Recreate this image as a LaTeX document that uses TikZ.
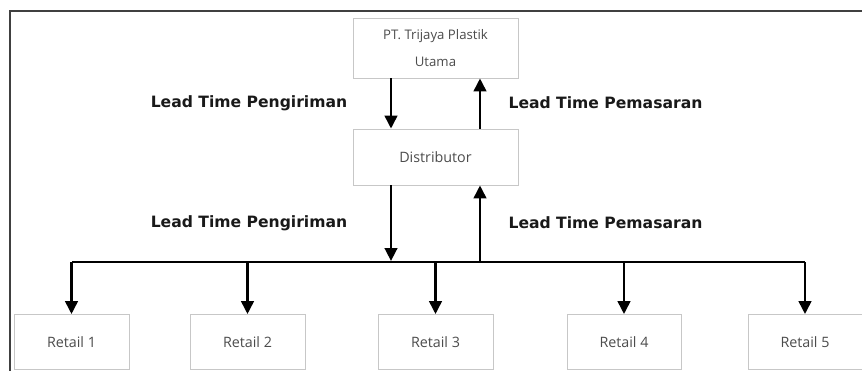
\documentclass[tikz,border=0pt]{standalone}
\usepackage{fontspec}
\setmainfont{Open Sans}
\newfontfamily\lblfont{DejaVu Sans}
\usetikzlibrary{arrows.meta}
\begin{document}
\begin{tikzpicture}[x=1pt,y=-1pt,
  box/.style={draw=black!22,line width=0.8pt,fill=white,text=black!70,font=\fontsize{14.3}{27}\selectfont,align=center,inner sep=0pt},
  arr/.style={line width=2.7pt,-{Triangle[width=12.5pt,length=13pt]}},
  bus/.style={line width=2.7pt},
  lbl/.style={font=\lblfont\bfseries\fontsize{15.6}{17}\selectfont,text=black!90}]
\useasboundingbox (0,0) rectangle (862,370);
\draw[black!75,line width=1.8pt] (10,371) -- (10,11) -- (863,11);
\node[box,minimum width=165pt,minimum height=60pt,font=\fontsize{13.2}{27}\selectfont] (pt) at (435.5,48) {PT. Trijaya Plastik\\Utama};
\node[box,minimum width=165pt,minimum height=56pt] (dist) at (435.5,157) {Distributor};
\foreach \n/\x/\w in {1/71.5/115,2/247.5/115,3/435.5/115,4/624/114,5/805/114}{
  \node[box,minimum width=\w pt,minimum height=55pt] (r\n) at (\x,342) {Retail \n};
}
\coordinate (busL) at (72,262);
\coordinate (busR) at (805,262);
\coordinate (busA) at (391,262);
\coordinate (busB) at (480,262);
\draw[arr] (pt.south -| busA) -- (dist.north -| busA);
\draw[arr] (dist.north -| busB) -- (pt.south -| busB);
\draw[bus] (busL) -- (busR);
\draw[arr,shorten >=1pt] (dist.south -| busA) -- (busA);
\draw[arr] (busB) -- (dist.south -| busB);
\foreach \n in {1,...,5}{
  \draw[arr] (r\n.north |- busL) -- (r\n.north);
}
\node[lbl] (l1) at (249,103) {Lead Time Pengiriman};
\node[lbl] (l2) at (605.5,103) {Lead Time Pemasaran};
\node[lbl] (l3) at (249,223) {Lead Time Pengiriman};
\node[lbl] (l4) at (605.5,223) {Lead Time Pemasaran};
\end{tikzpicture}
\end{document}
